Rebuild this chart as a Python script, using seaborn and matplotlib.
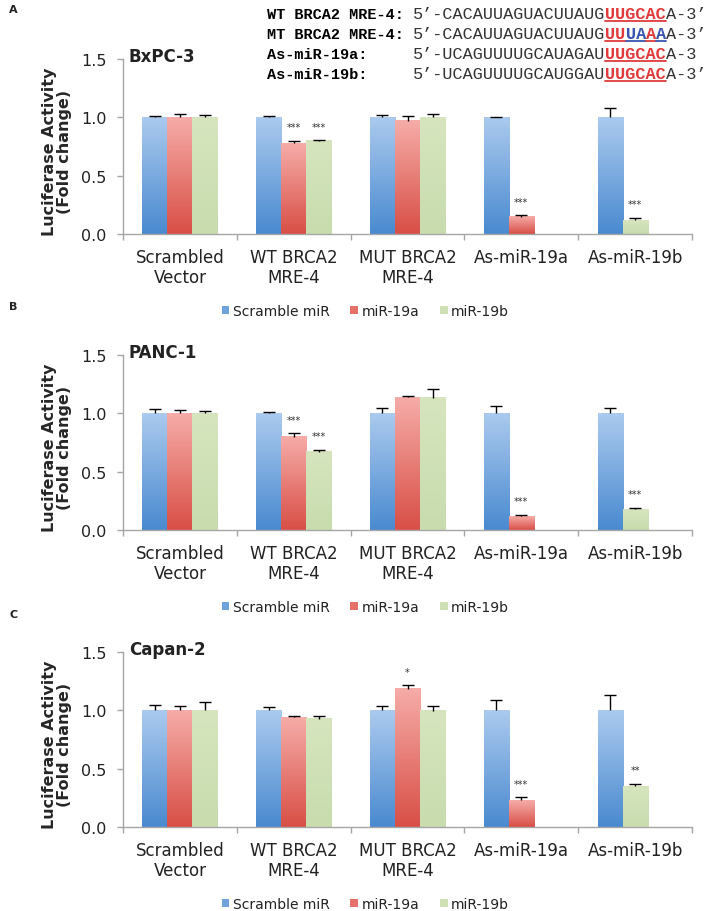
import numpy as np
import pandas as pd
import matplotlib
matplotlib.use('Agg')
import matplotlib.pyplot as plt
import seaborn as sns
from matplotlib.colors import LinearSegmentedColormap, to_rgb
from matplotlib.patches import Patch
from matplotlib.lines import Line2D

conditions = ['Scrambled\nVector', 'WT BRCA2\nMRE-4', 'MUT BRCA2\nMRE-4', 'As-miR-19a', 'As-miR-19b']
series = ['Scramble miR', 'miR-19a', 'miR-19b']
nan = np.nan

# BxPC-3
bx_scr = [1.00, 1.00, 1.00, 1.00, 1.00]
bx_19a = [1.00, 0.78, 0.97, 0.15, nan]
bx_19b = [1.00, 0.80, 1.00, nan, 0.12]
bx_scr_err = [0.01, 0.01, 0.02, 0.004, 0.083]
bx_19a_err = [0.025, 0.02, 0.04, 0.01, nan]
bx_19b_err = [0.02, 0.005, 0.03, nan, 0.02]
bx_19a_sig = ['', '***', '', '***', '']
bx_19b_sig = ['', '***', '', '', '***']

# PANC-1
pc_scr = [1.00, 1.00, 1.00, 1.00, 1.00]
pc_19a = [1.00, 0.80, 1.14, 0.12, nan]
pc_19b = [1.00, 0.67, 1.135, nan, 0.18]
pc_scr_err = [0.04, 0.01, 0.045, 0.06, 0.05]
pc_19a_err = [0.03, 0.03, 0.01, 0.01, nan]
pc_19b_err = [0.02, 0.02, 0.07, nan, 0.01]
pc_19a_sig = ['', '***', '', '***', '']
pc_19b_sig = ['', '***', '', '', '***']

# Capan-2
cp_scr = [1.00, 1.00, 1.00, 1.00, 1.00]
cp_19a = [1.00, 0.94, 1.185, 0.23, nan]
cp_19b = [1.00, 0.93, 0.995, nan, 0.35]
cp_scr_err = [0.05, 0.025, 0.035, 0.085, 0.13]
cp_19a_err = [0.04, 0.01, 0.03, 0.023, nan]
cp_19b_err = [0.075, 0.022, 0.04, nan, 0.02]
cp_19a_sig = ['', '', '*', '***', '']
cp_19b_sig = ['', '', '', '', '**']

panels = [
    ('A', 'BxPC-3', 235, 60, 10, (bx_scr, bx_19a, bx_19b), (bx_scr_err, bx_19a_err, bx_19b_err),
     ([''] * 5, bx_19a_sig, bx_19b_sig)),
    ('B', 'PANC-1', 531, 356, 307, (pc_scr, pc_19a, pc_19b), (pc_scr_err, pc_19a_err, pc_19b_err),
     ([''] * 5, pc_19a_sig, pc_19b_sig)),
    ('C', 'Capan-2', 828, 653, 615, (cp_scr, cp_19a, cp_19b), (cp_scr_err, cp_19a_err, cp_19b_err),
     ([''] * 5, cp_19a_sig, cp_19b_sig)),
]

# sequence block at the top
red, blue, grey = '#e03a3a', '#3a55b0', '#333333'
seq_labels = ['WT BRCA2 MRE-4:', 'MT BRCA2 MRE-4:', 'As-miR-19a:', 'As-miR-19b:']
seq_parts = [
    [('5\u2019-CACAUUAGUACUUAUG', grey, False, False), ('UUGCAC', red, True, True), ('A-3\u2019', grey, False, False)],
    [('5\u2019-CACAUUAGUACUUAUG', grey, False, False), ('UU', red, True, True), ('UA', blue, True, True),
     ('A', red, True, True), ('A', blue, True, True), ('A-3\u2019', grey, False, False)],
    [('5\u2019-UCAGUUUUGCAUAGAU', grey, False, False), ('UUGCAC', red, True, True), ('A-3', grey, False, False)],
    [('5\u2019-UCAGUUUUGCAUGGAU', grey, False, False), ('UUGCAC', red, True, True), ('A-3\u2019', grey, False, False)],
]

bar_tops = ['#abcaee', '#f6aca8', '#d6e5be']
bar_bottoms = ['#4a8ad0', '#d84f46', '#c8dcae']
legend_colors = ['#6fa3dc', '#e5716a', '#cfe0b5']
axis_grey = '#a6a6a6'

sns.set_theme(style='white')
plt.rcParams['font.family'] = ['DejaVu Sans']
plt.rcParams['text.color'] = '#222222'
plt.rcParams['xtick.color'] = '#222222'
plt.rcParams['ytick.color'] = '#222222'

W, H = 708, 912
fig = plt.figure(figsize=(W / 100, H / 100), dpi=100)
renderer = fig.canvas.get_renderer()

def fx(px):
    return px / W

def fy(py):
    return 1 - py / H

pal_rgb = np.array([to_rgb(c) for c in legend_colors])

for letter, name, zero_px, top_px, letter_px, vals, errs, sigs in panels:
    ax = fig.add_axes([fx(123), fy(zero_px), (692 - 123) / W, (zero_px - top_px) / H])

    rows = []
    for s, v in zip(series, vals):
        for c, val in zip(conditions, v):
            if not np.isnan(val):
                rows.append((c, s, val))
    df = pd.DataFrame(rows, columns=['condition', 'miRNA', 'activity'])

    sns.barplot(data=df, x='condition', y='activity', hue='miRNA', order=conditions,
                hue_order=series, width=0.66, errorbar=None, legend=False,
                palette=legend_colors, saturation=1, ax=ax)

    for p in list(ax.patches):
        h = p.get_height()
        if not h or np.isnan(h):
            continue
        fc = np.array(p.get_facecolor()[:3])
        i = int(np.argmin(((pal_rgb - fc) ** 2).sum(axis=1)))
        w = p.get_width()
        cat = int(round(p.get_x() + w / 2))
        # an empty middle slot means the last bar moves next to the first
        if i == 2 and np.isnan(vals[1][cat]):
            p.set_x(p.get_x() - w)
        x0 = p.get_x()
        p.set_visible(False)
        cmap = LinearSegmentedColormap.from_list('g%d' % i, [bar_bottoms[i], bar_tops[i]])
        grad = np.linspace(0, 1, 128).reshape(-1, 1)
        ax.imshow(grad, extent=[x0, x0 + w, 0, h], cmap=cmap, origin='lower',
                  aspect='auto', interpolation='bicubic', zorder=2)
        err = errs[i][cat]
        eb = ax.errorbar(x0 + w / 2, h, yerr=[[0], [err]], fmt='none', ecolor='black',
                         elinewidth=1.0, capsize=4, capthick=1.0, zorder=3)
        # plus-direction only: drop the cap sitting on the bar top
        for cap in eb[1]:
            if np.allclose(cap.get_ydata(), h):
                cap.set_visible(False)
        if sigs[i][cat]:
            ax.text(x0 + w / 2, h + err + 0.115, sigs[i][cat], ha='center',
                    va='center', fontsize=7, color='#333333')

    ax.set_xlim(-0.5, 4.5)
    ax.set_ylim(0, 1.5)
    ax.set_xlabel('')
    ax.set_yticks([0, 0.5, 1.0, 1.5])
    ax.set_yticklabels(['0.0', '0.5', '1.0', '1.5'])
    ax.set_xticks(range(len(conditions)))
    ax.set_xticklabels(conditions, fontsize=12, linespacing=1.15)
    ax.set_xticks(np.arange(-0.5, 5, 1), minor=True)
    ax.tick_params(axis='x', which='major', length=0, pad=10)
    ax.tick_params(axis='x', which='minor', length=4, width=1, color=axis_grey, bottom=True)
    ax.tick_params(axis='y', length=4, width=1, color=axis_grey, pad=8, labelsize=11.5, left=True)
    for sp in ['top', 'right']:
        ax.spines[sp].set_visible(False)
    for sp in ['left', 'bottom']:
        ax.spines[sp].set_color(axis_grey)
        ax.spines[sp].set_linewidth(1)

    ax.set_ylabel('Luciferase Activity\n(Fold change)', fontsize=11.5, fontweight='bold',
                  linespacing=0.95)
    ax.yaxis.set_label_coords(-0.09, 0.475)

    ax.text(-0.45, 1.525, name, fontsize=12, fontweight='bold', ha='left', va='center')
    fig.text(fx(9), fy(letter_px), letter, fontsize=8, fontweight='bold', ha='left', va='center')

    handles = [Patch(facecolor=c, edgecolor='none') for c in legend_colors]
    ax.legend(handles, series, loc='center', bbox_to_anchor=(0.426, -0.44), ncol=3,
              frameon=False, fontsize=10, handlelength=0.55, handleheight=0.55,
              handletextpad=0.25, columnspacing=1.5)

# sequences drawn in a monospace font, segment by segment
def char_width(fs, weight):
    probe = fig.text(0, 0, 'A' * 20, family='Liberation Mono', fontsize=fs, fontweight=weight)
    wpx = probe.get_window_extent(renderer).width / 20
    probe.remove()
    return wpx

seq_fs = 12.2
lab_fs = 11.0
seq_char = char_width(seq_fs, 'normal')
lab_char = char_width(lab_fs, 'bold')
seq_x = 413
lab_end = 404
lab_x = lab_end - len(seq_labels[0]) * lab_char
for k, (lab, parts) in enumerate(zip(seq_labels, seq_parts)):
    base_px = 19 + k * 20
    fig.text(fx(lab_x), fy(base_px), lab, family='Liberation Mono', fontsize=lab_fs,
             fontweight='bold', color='black', va='baseline', ha='left')
    x = seq_x
    for txt, col, bold, under in parts:
        fig.text(fx(x), fy(base_px), txt, family='Liberation Mono', fontsize=seq_fs,
                 fontweight='bold' if bold else 'normal', color=col, va='baseline', ha='left')
        x_end = x + len(txt) * seq_char
        if under:
            fig.add_artist(Line2D([fx(x), fx(x_end)], [fy(base_px + 2.5), fy(base_px + 2.5)],
                                  color=col, lw=1.3, transform=fig.transFigure))
        x = x_end

fig.savefig('out.png', dpi=100)
